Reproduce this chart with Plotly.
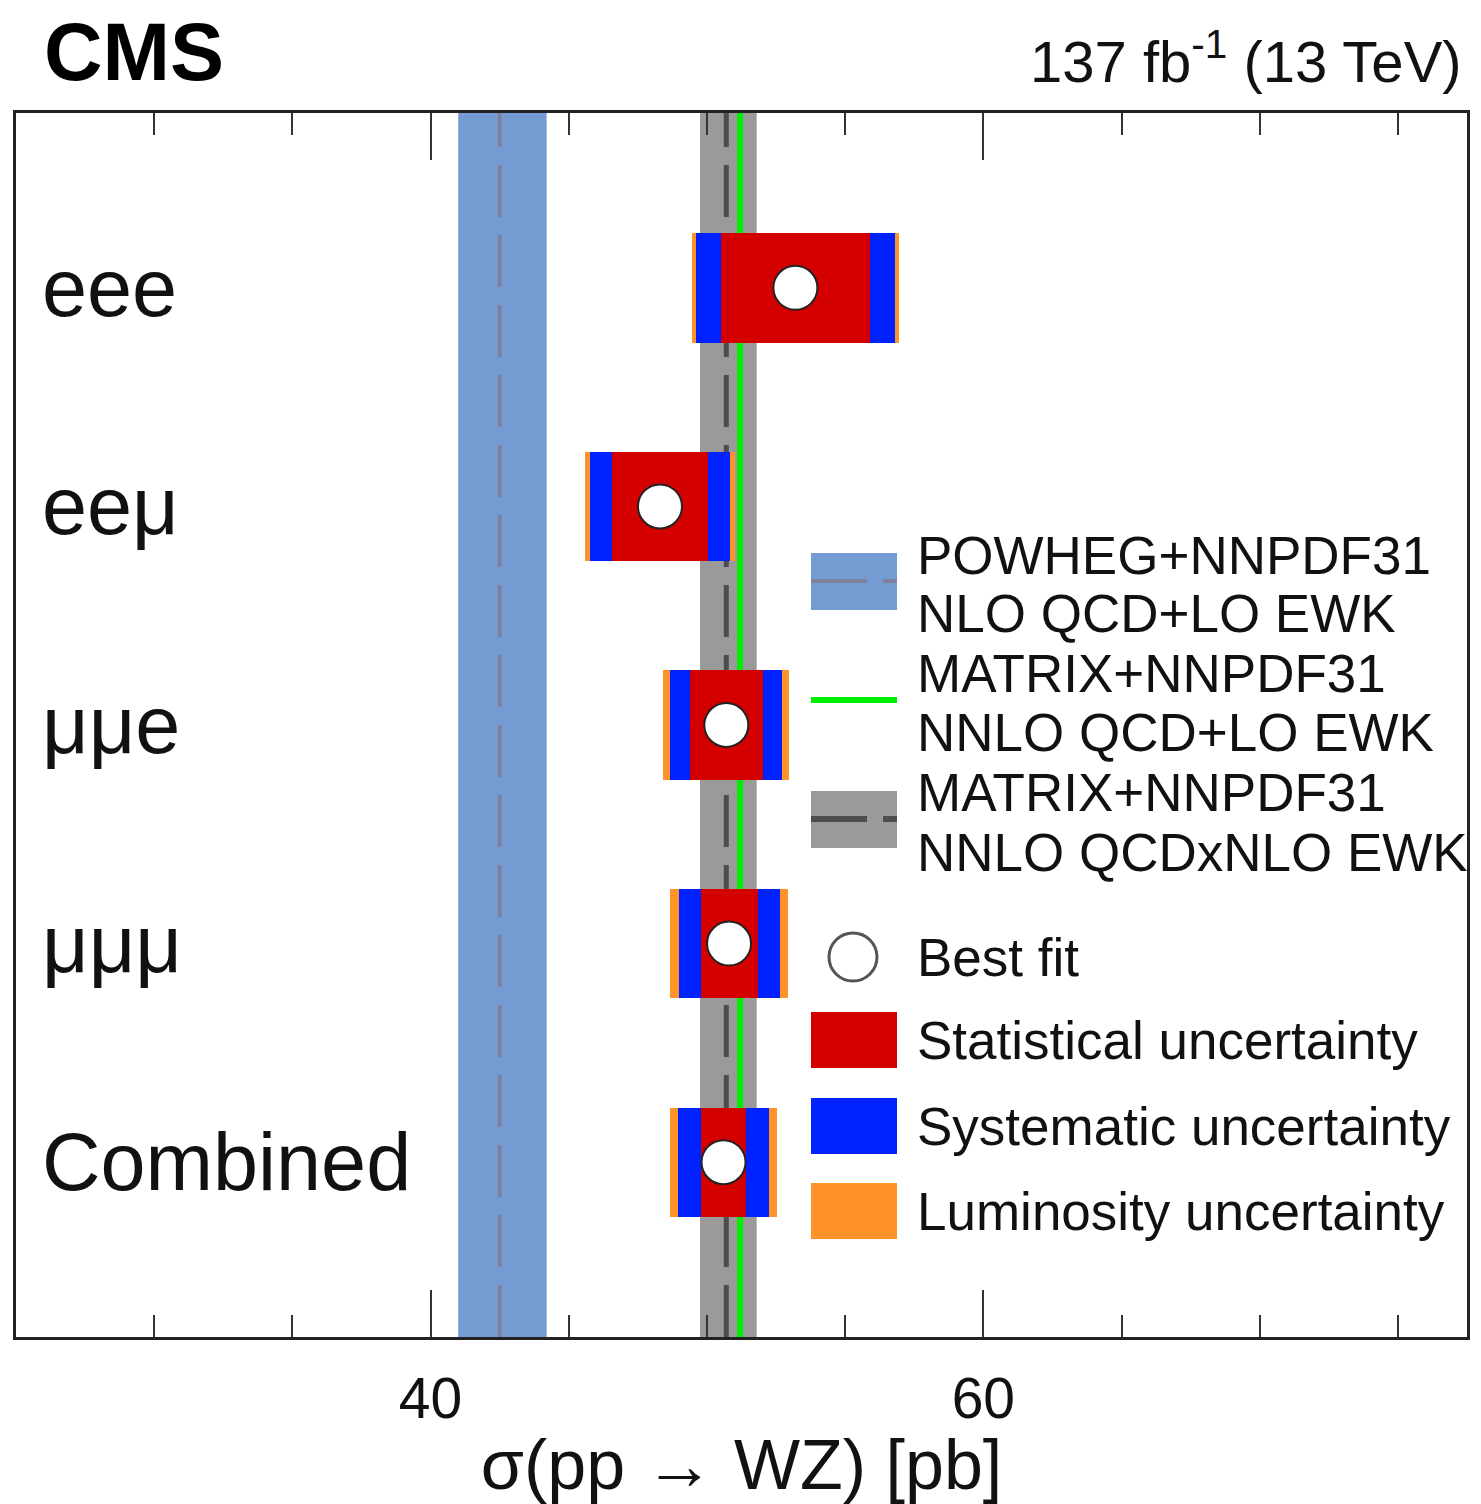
import numpy as np
import plotly.graph_objects as go

# ---------------- data ----------------
categories = ["eee", "eeμ", "μμe", "μμμ", "Combined"]
y_pos = [4, 3, 2, 1, 0]
best_fit = [53.2, 48.3, 50.7, 50.8, 50.6]
stat_unc = [2.70, 1.72, 1.32, 1.03, 0.83]
syst_unc = [2.40, 1.84, 1.54, 1.51, 1.42]
lumi_unc = [1.01, 1.02, 1.04, 1.11, 1.02]

# theory predictions (central, low edge, high edge)
powheg_nlo = [42.5, 41.0, 44.2]
matrix_nnlo = [51.2]
matrix_nnlo_ewk = [50.7, 49.75, 51.8]

x_minor_ticks = [30, 35, 40, 45, 50, 55, 60, 65, 70, 75]
x_major_ticks = [40, 60]

# ---------------- styles ----------------
FONT = "Liberation Sans, Arial, Helvetica, sans-serif"
RED = "#d40000"
BLUE = "#0022ff"
ORANGE = "#ff9228"
LBLUE = "#749bd2"
GRAY = "#9a9a9a"
DGRAY = "#4d4d4d"
GREEN = "#00ee00"

L, R, T, B = 16, 1467, 113, 1337
W, H = R - L, B - T
XR = [25, 77.5]


def px(xp):
    return (xp - L) / W


def py(yp):
    return (B - yp) / H


stat = np.array(stat_unc)
tot_ss = np.sqrt(stat ** 2 + np.array(syst_unc) ** 2)
tot = np.sqrt(tot_ss ** 2 + np.array(lumi_unc) ** 2)
bf = np.array(best_fit)

fig = go.Figure()

for hw, col in [(tot, ORANGE), (tot_ss, BLUE), (stat, RED)]:
    fig.add_trace(go.Bar(
        y=y_pos, x=2 * hw, base=bf - hw, orientation="h", width=0.5,
        marker=dict(color=col, line=dict(width=0)), showlegend=False,
        hoverinfo="skip"))

fig.add_trace(go.Scatter(
    x=best_fit, y=y_pos, mode="markers",
    marker=dict(symbol="circle", size=44, color="white",
                line=dict(color="#222222", width=2)),
    showlegend=False, hoverinfo="skip"))

# invisible trace carrying the overlay axis for the long (major) ticks
fig.add_trace(go.Scatter(x=x_major_ticks, y=[None, None], xaxis="x2", mode="markers",
                         marker=dict(opacity=0), showlegend=False, hoverinfo="skip"))

shapes = []
# POWHEG band + dashed line
shapes.append(dict(type="rect", xref="x", yref="y domain", x0=powheg_nlo[1], x1=powheg_nlo[2],
                   y0=0, y1=1, fillcolor=LBLUE, line=dict(width=0), layer="below"))
shapes.append(dict(type="line", xref="x", yref="y domain", x0=powheg_nlo[0], x1=powheg_nlo[0],
                   y0=0, y1=1, line=dict(color="#7f7f9e", width=4, dash="52px,18px"), layer="below"))
# MATRIX NNLO QCD x NLO EWK band + dashed line
shapes.append(dict(type="rect", xref="x", yref="y domain", x0=matrix_nnlo_ewk[1], x1=matrix_nnlo_ewk[2],
                   y0=0, y1=1, fillcolor=GRAY, line=dict(width=0), layer="below"))
shapes.append(dict(type="line", xref="x", yref="y domain", x0=matrix_nnlo_ewk[0], x1=matrix_nnlo_ewk[0],
                   y0=0, y1=1, line=dict(color=DGRAY, width=5, dash="52px,18px"), layer="below"))
# MATRIX NNLO QCD + LO EWK line
shapes.append(dict(type="line", xref="x", yref="y domain", x0=matrix_nnlo[0], x1=matrix_nnlo[0],
                   y0=0, y1=1, line=dict(color=GREEN, width=6), layer="below"))

annotations = []
# category labels inside the frame, placed on the y scale
for cat, yv in zip(categories, y_pos):
    annotations.append(dict(xref="paper", yref="y", x=px(40), y=yv, text=cat,
                            showarrow=False, xanchor="left", yanchor="middle",
                            font=dict(family=FONT, size=81, color="#111111")))

# ---------------- legend (manual) ----------------
sx0, sx1 = 811, 897
text_x = 915


def leg_text(txt, yc):
    annotations.append(dict(xref="paper", yref="paper", x=px(text_x), y=py(yc), text=txt,
                            showarrow=False, xanchor="left", yanchor="middle",
                            font=dict(family=FONT, size=53, color="#111111")))


# POWHEG entry
shapes.append(dict(type="rect", xref="paper", yref="paper", x0=px(sx0), x1=px(sx1),
                   y0=py(610), y1=py(553), fillcolor=LBLUE, line=dict(width=0)))
shapes.append(dict(type="line", xref="paper", yref="paper", x0=px(sx0), x1=px(867),
                   y0=py(581), y1=py(581), line=dict(color="#7f7f9e", width=4)))
shapes.append(dict(type="line", xref="paper", yref="paper", x0=px(883), x1=px(sx1),
                   y0=py(581), y1=py(581), line=dict(color="#7f7f9e", width=4)))
leg_text("POWHEG+NNPDF31", 555)
leg_text("NLO QCD+LO EWK", 613)
# MATRIX NNLO QCD + LO EWK
shapes.append(dict(type="line", xref="paper", yref="paper", x0=px(sx0), x1=px(sx1),
                   y0=py(700), y1=py(700), line=dict(color=GREEN, width=6)))
leg_text("MATRIX+NNPDF31", 673)
leg_text("NNLO QCD+LO EWK", 732)
# MATRIX NNLO QCD x NLO EWK
shapes.append(dict(type="rect", xref="paper", yref="paper", x0=px(sx0), x1=px(sx1),
                   y0=py(848), y1=py(791), fillcolor=GRAY, line=dict(width=0)))
shapes.append(dict(type="line", xref="paper", yref="paper", x0=px(sx0), x1=px(867),
                   y0=py(819), y1=py(819), line=dict(color=DGRAY, width=6)))
shapes.append(dict(type="line", xref="paper", yref="paper", x0=px(883), x1=px(sx1),
                   y0=py(819), y1=py(819), line=dict(color=DGRAY, width=6)))
leg_text("MATRIX+NNPDF31", 792)
leg_text("NNLO QCDxNLO EWK", 852)
# Best fit
shapes.append(dict(type="circle", xref="paper", yref="paper", x0=px(829), x1=px(877),
                   y0=py(981), y1=py(933), fillcolor="white", line=dict(color="#555555", width=3)))
leg_text("Best fit", 957)
# Stat / syst / lumi
for col, yc, txt in [(RED, 1040, "Statistical uncertainty"),
                     (BLUE, 1126, "Systematic uncertainty"),
                     (ORANGE, 1211, "Luminosity uncertainty")]:
    shapes.append(dict(type="rect", xref="paper", yref="paper", x0=px(sx0), x1=px(sx1),
                       y0=py(yc + 28), y1=py(yc - 28), fillcolor=col, line=dict(width=0)))
    leg_text(txt, yc)

# header texts
annotations.append(dict(xref="paper", yref="paper", x=px(42), y=py(52), text="<b>CMS</b>",
                        showarrow=False, xanchor="left", yanchor="middle",
                        font=dict(family=FONT, size=81, color="black")))
annotations.append(dict(xref="paper", yref="paper", x=px(1464), y=py(58),
                        text="137 fb<sup>-1</sup> (13 TeV)",
                        showarrow=False, xanchor="right", yanchor="middle",
                        font=dict(family=FONT, size=58, color="#111111")))

fig.update_layout(
    width=1481, height=1504,
    margin=dict(l=L, r=1481 - R, t=T, b=1504 - B),
    paper_bgcolor="white", plot_bgcolor="white",
    barmode="overlay", bargap=0,
    shapes=shapes, annotations=annotations,
    showlegend=False,
    font=dict(family=FONT, color="#111111"),
)

fig.update_layout(
    xaxis=dict(
        range=XR, tickmode="array", tickvals=x_minor_ticks,
        ticktext=[str(v) if v in x_major_ticks else "" for v in x_minor_ticks],
        ticks="inside", ticklen=22, tickwidth=2, tickcolor="#333333",
        showline=True, linewidth=3, linecolor="#222222", mirror="ticks",
        showgrid=False, zeroline=False, ticklabelstandoff=10,
        tickfont=dict(family=FONT, size=57, color="#111111"),
        title=dict(text="σ(pp → WZ) [pb]", font=dict(family=FONT, size=70, color="#111111"), standoff=0),
    ),
    xaxis2=dict(
        range=XR, overlaying="x", side="bottom", anchor="y",
        tickmode="array", tickvals=x_major_ticks, showticklabels=False,
        ticks="inside", ticklen=47, tickwidth=2, tickcolor="#333333",
        showline=False, mirror="ticks", showgrid=False, zeroline=False,
    ),
    yaxis=dict(
        range=[-0.8, 4.8], tickvals=y_pos, showticklabels=False,
        ticks="",
        showline=True, linewidth=3, linecolor="#222222", mirror=True,
        showgrid=False, zeroline=False,
    ),
)

fig.write_html("out.html")
